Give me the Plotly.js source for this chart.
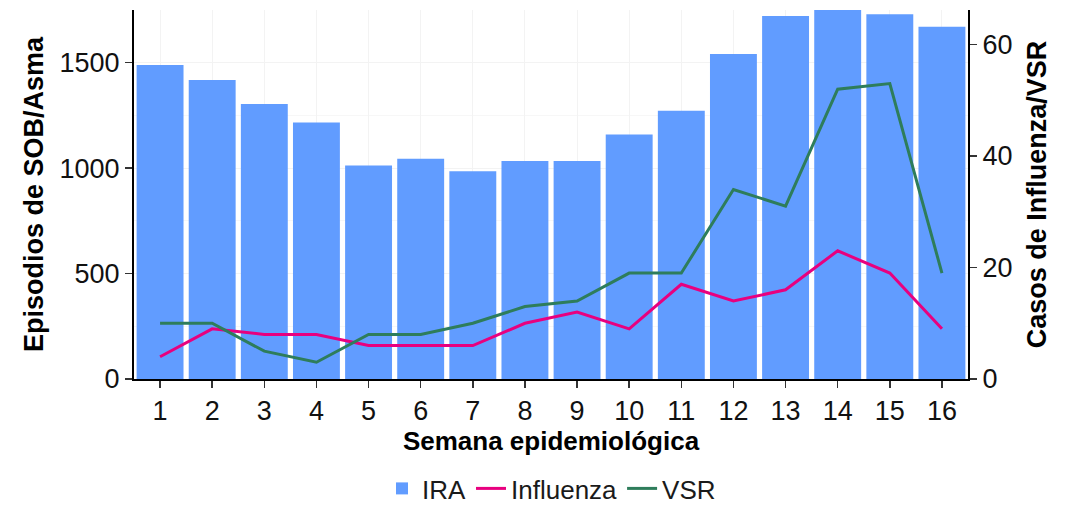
<!DOCTYPE html>
<html><head><meta charset="utf-8">
<script src="https://cdn.plot.ly/plotly-3.0.1.min.js"></script>
<style>body{margin:0;background:#fff}#c{width:1073px;height:512px}</style>
</head><body><div id="c"></div>
<script>
const semanas = [1,2,3,4,5,6,7,8,9,10,11,12,13,14,15,16];
const ira = [1489,1418,1304,1216,1012,1044,985,1034,1034,1159,1272,1541,1722,1750,1730,1670];
const influenza = [4,9,8,8,6,6,6,10,12,9,17,14,16,23,19,9];
const vsr = [10,10,5,3,8,8,10,13,14,19,19,34,31,52,53,19];

const traces = [
  {type:'bar', x:semanas, y:ira, name:'IRA', marker:{color:'#619CFF'}, width:0.9, yaxis:'y'},
  {type:'scatter', mode:'lines', x:semanas, y:influenza, name:'Influenza', line:{color:'#E8007F', width:3}, yaxis:'y2'},
  {type:'scatter', mode:'lines', x:semanas, y:vsr, name:'VSR', line:{color:'#2E7D5B', width:3}, yaxis:'y2'}
];
const font = {family:'Liberation Sans, Arial, sans-serif', color:'#000'};
const layout = {
  width:1073, height:512,
  margin:{l:134, r:105, t:10, b:133},
  paper_bgcolor:'#fff', plot_bgcolor:'#fff',
  font:font,
  showlegend:true,
  legend:{orientation:'h', xref:'container', yref:'container', x:0.514, xanchor:'center', y:-0.012, yanchor:'bottom',
    font:{size:26, family:font.family, color:'#1a1a1a'}, traceorder:'normal', itemwidth:30},
  xaxis:{range:[0.5,16.5], tickmode:'array', tickvals:semanas, ticktext:semanas.map(String),
    ticks:'outside', ticklen:7, tickcolor:'#333', tickwidth:1.5,
    showline:true, linecolor:'#000', linewidth:2,
    showgrid:true, gridcolor:'#f3f3f3', zeroline:false,
    tickfont:{size:27, color:'#111'},
    title:{text:'<b>Semana epidemiológica</b>', font:{size:26, color:'#000'}, standoff:4}},
  yaxis:{range:[0,1750], tickvals:[0,500,1000,1500], ticks:'outside', ticklen:7, tickcolor:'#333', tickwidth:1.5,
    showline:true, linecolor:'#000', linewidth:2,
    showgrid:true, gridcolor:'#f3f3f3', zeroline:false,
    minor:{tickvals:[250,750,1250], showgrid:true, gridcolor:'#f7f7f7', ticks:''},
    tickfont:{size:27, color:'#111'},
    title:{text:'<b>Episodios de SOB/Asma</b>', font:{size:27, color:'#000'}, standoff:8}},
  yaxis2:{overlaying:'y', side:'right', range:[0,66.2], tickvals:[0,20,40,60],
    ticks:'outside', ticklen:7, tickcolor:'#333', tickwidth:1.5,
    showline:true, linecolor:'#000', linewidth:2, showgrid:false, zeroline:false,
    tickfont:{size:27, color:'#111'},
    title:{text:'<b>Casos de Influenza/VSR</b>', font:{size:27, color:'#000'}, standoff:16}}
};
Plotly.newPlot('c', traces, layout, {displayModeBar:false, staticPlot:true});
</script></body></html>
